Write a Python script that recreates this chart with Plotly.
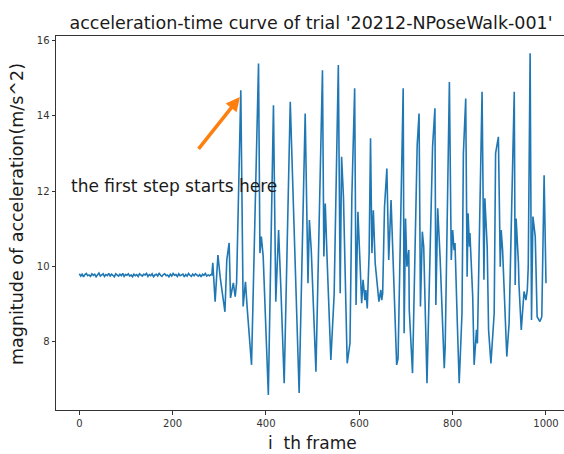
import plotly.graph_objects as go

# Flat (standing) part: frames 0..282, read as a slightly noisy band around 9.77
flat_frames = list(range(0, 283, 3))
flat_values = [9.80, 9.74, 9.79, 9.72, 9.78, 9.81, 9.75, 9.77, 9.73, 9.80,
               9.76, 9.79, 9.72, 9.78, 9.82, 9.74, 9.77, 9.80, 9.73, 9.78,
               9.75, 9.81, 9.74, 9.79, 9.76, 9.72, 9.80, 9.77, 9.74, 9.79,
               9.75, 9.81, 9.73, 9.78, 9.76, 9.80, 9.74, 9.77, 9.72, 9.79,
               9.75, 9.78, 9.73, 9.80, 9.76, 9.74, 9.79, 9.77, 9.81, 9.73,
               9.78, 9.75, 9.80, 9.72, 9.77, 9.79, 9.74, 9.82, 9.76, 9.73,
               9.78, 9.80, 9.75, 9.77, 9.72, 9.79, 9.74, 9.81, 9.76, 9.78,
               9.73, 9.80, 9.75, 9.77, 9.79, 9.72, 9.78, 9.74, 9.81, 9.76,
               9.73, 9.79, 9.75, 9.80, 9.77, 9.74, 9.78, 9.72, 9.79, 9.76,
               9.81, 9.74, 9.77, 9.75, 9.78]

# Walking part: turning points
walk_frames = [284, 286, 291, 297, 302, 312, 316, 321, 324, 330, 334, 337,
               346, 351, 356, 360, 369, 384, 387, 390, 394, 405, 416, 421,
               427, 432, 439, 452, 457, 462, 471, 484, 488, 490, 493, 497,
               507, 509, 521, 524, 527, 531, 539, 546, 555, 559, 562, 566,
               571, 574, 580, 584, 590, 593, 597, 602, 605, 608, 612, 614,
               617, 621, 624, 627, 630, 634, 639, 642, 646, 648, 650, 654,
               659, 663, 668, 680, 683, 691, 694, 696, 699, 702, 706, 707,
               714, 724, 728, 731, 735, 738, 745, 757, 762, 764, 768, 773,
               782, 784, 793, 797, 800, 803, 805, 810, 814, 820, 823, 828,
               831, 833, 836, 837, 843, 846, 851, 853, 859, 863, 867, 869,
               874, 877, 882, 889, 892, 898, 902, 904, 907, 911, 916, 921,
               927, 932, 934, 936, 941, 942, 947, 953, 957, 960, 962, 966,
               969, 972, 977, 981, 987, 991, 996, 1000]
walk_values = [9.77, 10.09, 9.06, 10.30, 9.69, 8.79, 10.17, 10.62, 9.16, 9.56, 9.19, 9.56,
               14.68, 8.93, 9.59, 8.84, 7.38, 15.39, 10.35, 10.79, 10.26, 6.58, 14.28, 9.06,
               10.96, 9.37, 6.89, 14.37, 12.29, 10.26, 6.63, 14.06, 11.32, 9.55, 11.23, 10.43,
               7.20, 8.31, 15.21, 10.26, 11.67, 10.17, 7.51, 9.24, 15.35, 9.28, 12.91, 11.85,
               8.66, 7.42, 7.96, 11.85, 14.73, 8.97, 11.45, 9.90, 9.02, 9.64, 9.10, 9.37,
               8.88, 10.35, 13.40, 10.35, 11.49, 10.08, 9.37, 9.06, 9.37, 9.10, 9.28, 11.58,
               12.60, 10.17, 11.76, 7.38, 7.55, 12.74, 14.73, 8.22, 11.27, 9.99, 10.43, 8.84,
               7.16, 13.22, 14.06, 8.93, 10.92, 10.52, 6.89, 13.18, 14.20, 8.97, 11.54, 10.26,
               7.29, 7.86, 14.90, 10.17, 10.96, 10.43, 10.62, 8.49, 6.89, 8.75, 13.00, 14.46,
               9.72, 11.41, 10.52, 10.88, 9.19, 7.38, 8.31, 7.95, 12.65, 14.64, 9.64, 11.81,
               10.52, 8.31, 7.42, 8.75, 13.00, 13.44, 9.99, 10.96, 10.43, 9.02, 7.60, 8.49,
               11.58, 14.64, 9.50, 11.27, 10.08, 9.55, 8.31, 9.33, 9.10, 9.37, 9.99, 15.66,
               8.57, 11.32, 10.79, 8.66, 8.53, 8.66, 12.42, 9.55]

frames = flat_frames + walk_frames
values = flat_values + walk_values

x_ticks = [0, 200, 400, 600, 800, 1000]
y_ticks = [8, 10, 12, 14, 16]

title_text = "acceleration-time curve of trial '20212-NPoseWalk-001'"
xlabel_text = "i  th frame"
ylabel_text = "magnitude of acceleration(m/s^2)"
note_text = "the first step starts here"
arrow_tail = (253, 13.08)
arrow_head = (344, 14.50)

FONT = "DejaVu Sans"
W, H = 564, 454
ML, MR, MT, MB = 56, 0, 36, 44
PW, PH = W - ML - MR, H - MT - MB


def px_to_paper(px, py):
    return (px - ML) / PW, (H - MB - py) / PH


fig = go.Figure()
fig.add_trace(go.Scatter(x=frames, y=values, mode="lines",
                         line=dict(color="#1f77b4", width=1.6),
                         hoverinfo="skip", showlegend=False))

fig.add_annotation(x=arrow_head[0], y=arrow_head[1], ax=arrow_tail[0], ay=arrow_tail[1],
                   xref="x", yref="y", axref="x", ayref="y", text="",
                   showarrow=True, arrowhead=2, arrowsize=0.8, arrowwidth=3.5,
                   arrowcolor="#ff7f0e", standoff=0, startstandoff=0)
fig.add_annotation(x=-22, y=12.14, xref="x", yref="y", text=note_text,
                   showarrow=False, xanchor="left", yanchor="middle",
                   font=dict(family=FONT, size=17, color="#1a1a1a"))

xl = px_to_paper(312, 443)
fig.add_annotation(x=xl[0], y=xl[1], xref="paper", yref="paper",
                   text=xlabel_text, showarrow=False, xanchor="center", yanchor="middle",
                   font=dict(family=FONT, size=17, color="#1a1a1a"))
yl = px_to_paper(17, 214)
fig.add_annotation(x=yl[0], y=yl[1], xref="paper", yref="paper", textangle=-90,
                   text=ylabel_text, showarrow=False, xanchor="center", yanchor="middle",
                   font=dict(family=FONT, size=17.5, color="#1a1a1a"))

fig.update_layout(
    width=W, height=H,
    margin=dict(l=ML, r=MR, t=MT, b=MB),
    paper_bgcolor="white", plot_bgcolor="white",
    font=dict(family=FONT, color="#262626"),
    title=dict(text=title_text, x=311 / W, xref="container", xanchor="center",
               y=1 - 23 / H, yref="container", yanchor="middle",
               font=dict(family=FONT, size=17.5, color="#1a1a1a")),
    xaxis=dict(range=[-50, 1038.6], tickvals=x_ticks, showgrid=False, zeroline=False,
               showline=True, linecolor="#333333", linewidth=1, mirror=True,
               ticks="outside", ticklen=3.5, tickcolor="#333333", automargin=False,
               tickfont=dict(family=FONT, size=10, color="#333333")),
    yaxis=dict(range=[6.18, 16.12], tickvals=y_ticks, showgrid=False, zeroline=False,
               showline=True, linecolor="#333333", linewidth=1, automargin=False,
               ticks="outside", ticklen=3.5, tickcolor="#333333",
               tickfont=dict(family=FONT, size=10, color="#333333")),
)

fig.write_html("out.html", config={"displayModeBar": False},
               post_script="document.body.style.margin='0';")
